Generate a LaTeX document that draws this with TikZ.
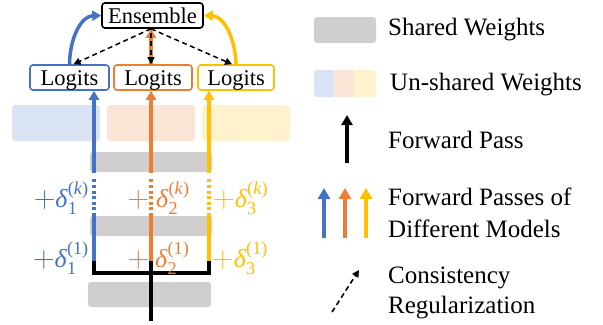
\RequirePackage{fix-cm}
\documentclass[tikz,border=0pt]{standalone}
\usepackage{amsmath}
\usepackage{fontspec}
\setmainfont{Liberation Serif}
\usetikzlibrary{arrows.meta,calc}
\definecolor{cblue}{HTML}{4472C4}
\definecolor{corange}{HTML}{ED7D31}
\definecolor{cyellow}{HTML}{FFC000}
\definecolor{lblue}{HTML}{DAE3F3}
\definecolor{lorange}{HTML}{FBE5D6}
\definecolor{lyellow}{HTML}{FFF2CC}
\definecolor{sgray}{HTML}{D0CECE}
\newcommand\dpart[2]{\textit{δ}$_{\text{\upshape #1}}^{\text{\upshape(#2)}}$}
\newcommand\pls{{\fontsize{30bp}{30bp}\selectfont$\mathbf{+}$}}
\begin{document}
\begin{tikzpicture}[x=1bp,y=-1bp,
  box/.style={draw,line width=1.6bp,rounded corners=3bp,inner sep=0pt,
    minimum height=25bp,text height=15bp,text depth=0bp,fill=white,
    font=\fontsize{22.5bp}{26bp}\selectfont},
  wbox/.style={rounded corners=3bp},
  fwd/.style={line width=3.5bp,-{Triangle[length=9bp,width=10bp]}},
  thk/.style={line width=3.5bp},
  dotl/.style={line width=3.5bp,dash pattern=on 3bp off 2.6bp},
  reg/.style={line width=1.5bp,dash pattern=on 5bp off 3.5bp,-{Triangle[length=7bp,width=7bp]}},
  lab/.style={inner sep=0pt,font=\fontsize{26bp}{30bp}\selectfont},
  leg/.style={inner sep=0pt,anchor=base west,font=\fontsize{25bp}{29bp}\selectfont}]
\useasboundingbox (0,0) rectangle (603,324);
% unshared weights
\fill[lblue,wbox] (12,105) rectangle (100,141);
\fill[lorange,wbox] (107,105) rectangle (195,141);
\fill[lyellow,wbox] (202,105) rectangle (290,141);
% shared weights
\fill[sgray,wbox] (90,152) rectangle (212,172);
\fill[sgray,wbox] (90,216) rectangle (212,236);
\fill[sgray,wbox] (88,282) rectangle (211,307);
% nodes
\node[box,minimum width=101bp] (ens) at (152.5,15.5) {Ensemble};
\node[box,draw=cblue,minimum width=79bp] (lb) at (69.5,77.5) {Logits};
\node[box,draw=corange,minimum width=78bp] (lo) at (153,77.5) {Logits};
\node[box,draw=cyellow,minimum width=76bp] (ly) at (236,77.5) {Logits};
% black input bracket
\coordinate (in) at (151,319);
\coordinate (jn) at (151,273);
\coordinate (b0) at (94,261);
\coordinate (o0) at (151,261);
\coordinate (y0) at (209,261);
\draw[thk,line cap=rect] (in) -- (jn);
\draw[thk,line cap=rect,line join=miter] (b0) -- (b0 |- jn) -- (y0 |- jn) -- (y0);
\draw[thk] (o0) -- (jn);
% colored forward passes
\foreach \c/\s/\n in {cblue/b0/lb,corange/o0/lo,cyellow/y0/ly}{
  \draw[thk,\c] (\s) -- ($(\s)+(0,-45)$);
  \draw[dotl,\c] ($(\s)+(0,-45)$) -- ($(\s)+(0,-84)$);
  \draw[fwd,\c] ($(\s)+(0,-88)$) -- (\s |- \n.south);
}
% perturbation labels
\node[lab,cblue,anchor=base east] (pbk) at (89,207) {\pls\dpart{1}{\textit{k}}};
\node[lab,corange,anchor=base] (pok) at (138.5,207) {\pls};
\node[lab,corange,anchor=base west] (dok) at (156,207) {\dpart{2}{\textit{k}}};
\node[lab,cyellow,anchor=base west] (pyk) at (213,207) {\pls\dpart{3}{\textit{k}}};
\node[lab,cblue,anchor=base east] (pb1) at (89,267) {\pls\dpart{1}{1}};
\node[lab,corange,anchor=base] (po1) at (138.5,267) {\pls};
\node[lab,corange,anchor=base west] (do1) at (155,267) {\dpart{2}{1}};
\node[lab,cyellow,anchor=base west] (py1) at (212,267) {\pls\dpart{3}{1}};
% logits to ensemble
\draw[fwd,cblue] (lb.north) .. controls (70,36) and (82,16) .. (ens.west);
\draw[fwd,cyellow] (ly.north) .. controls (235,36) and (223,16) .. (ens.east);
\draw[fwd,corange] (lo.north -| o0) -- (ens.south -| o0);
% consistency regularization
\draw[reg] (ens.south -| o0) -- ($(lb.north)+(4,0)$);
\draw[reg] (ens.south -| o0) -- ($(ly.north)+(-4,0)$);
\draw[reg] ($(ens.south -| o0)+(0,4)$) -- (lo.north -| o0);
% legend
\fill[sgray,wbox] (314,17) rectangle (376,43);
\node[leg] (t1) at (388,35) {Shared Weights};
\fill[lblue,wbox] (314,70) rectangle (336,97);
\fill[lorange,wbox] (334,70) rectangle (356,97);
\fill[lyellow,wbox] (354,70) rectangle (376,97);
\node[leg] (t2) at (390,90) {Un-shared Weights};
\coordinate (fa0) at (347,163);
\coordinate (fa1) at (347,115);
\draw[line width=4bp,-{Triangle[length=10bp,width=11bp]}] (fa0) -- (fa1);
\node[leg] (t3) at (388,148) {Forward Pass};
\foreach \c/\x in {cblue/324,corange/345,cyellow/366}{
  \coordinate (m\x) at (\x,238);
  \draw[line width=4bp,\c,-{Triangle[length=11bp,width=12bp]}] (m\x) -- (\x,188);
}
\node[leg] (t4) at (388,205) {Forward Passes of};
\node[leg] (t5) at (388,237) {Different Models};
\coordinate (da0) at (332,312);
\coordinate (da1) at (359,270);
\draw[reg,line width=1.6bp] (da0) -- (da1);
\node[leg] (t6) at (388,283) {Consistency};
\node[leg] (t7) at (388,313) {Regularization};
\end{tikzpicture}
\end{document}
